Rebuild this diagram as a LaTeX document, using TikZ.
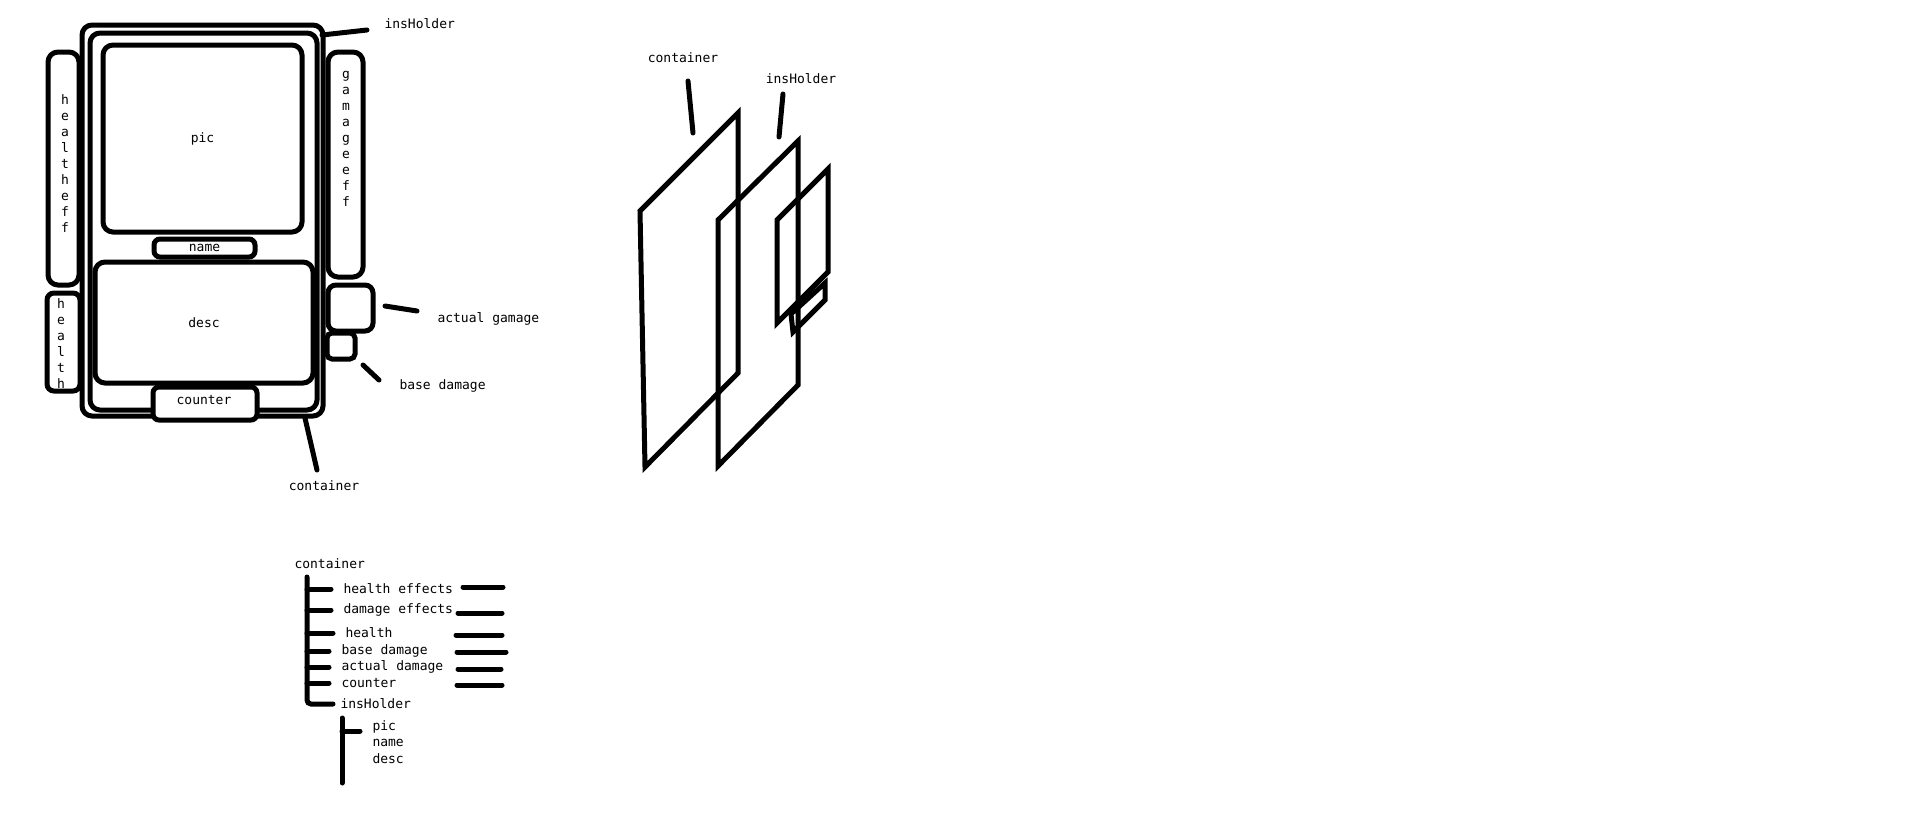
\documentclass[tikz,border=0pt]{standalone}
\usepackage{fontspec}
\setmonofont{DejaVu Sans Mono}
\usetikzlibrary{positioning}

\begin{document}
\begin{tikzpicture}[x=1pt, y=-1pt, line width=5pt, line cap=round,
  box/.style={draw, rounded corners=10pt, inner sep=0pt},
  txt/.style={font=\ttfamily\fontsize{13}{16}\selectfont, inner sep=0pt},
  vtxt/.style={txt, align=center}]
  \useasboundingbox (0,0) rectangle (1914,825);

  % card sketch
  \node[box, minimum width=241, minimum height=391] (cont) at (202.5,220.5) {};
  \node[box, minimum width=227, minimum height=377] (ins) at (203.5,221.5) {};
  \node[box, minimum width=199, minimum height=187] (pic) at (202.5,138.5) {};
  \node[txt] at (pic) {pic};
  \node[box, minimum width=101, minimum height=18, rounded corners=6pt] (name) at (204.5,248) {};
  \node[txt] at (name) {name};
  \node[box, minimum width=218, minimum height=121] (desc) at (204,322.5) {};
  \node[txt] at (desc) {desc};
  \node[box, minimum width=104, minimum height=33, rounded corners=6pt, fill=white] (cnt) at (205,403.5) {};
  \node[txt] at (204,400) {counter};
  \node[box, minimum width=31, minimum height=233] (heff) at (63.5,168.5) {};
  \node[vtxt] at (65,163.5) {h\\e\\a\\l\\t\\h\\e\\f\\f};
  \node[vtxt] at (61,343.5) {h\\e\\a\\l\\t\\h};
  \node[box, minimum width=33, minimum height=98, rounded corners=7pt] (hlth) at (63.5,342) {};
  \node[box, minimum width=35, minimum height=225] (geff) at (345.5,164.5) {};
  \node[vtxt] at (346,139) {g\\a\\m\\a\\g\\e\\e\\f\\f};
  \node[box, minimum width=45, minimum height=46, rounded corners=8pt] (agam) at (350.5,308) {};
  \node[box, minimum width=28, minimum height=26, rounded corners=5pt] (bdam) at (341,346) {};

  \node[txt, anchor=west] (lins) at (382,24) {insHolder};
  \node[txt, anchor=west] (lagam) at (435,319) {actual gamage};
  \node[txt, anchor=west] (lbdam) at (397,386) {base damage};
  \node[txt] (lcont) at (324,486) {container};
  \coordinate (a1) at (322,35);  \coordinate (a2) at (367,30);
  \coordinate (b1) at (385,306); \coordinate (b2) at (417,311);
  \coordinate (c1) at (363,365); \coordinate (c2) at (379,380);
  \coordinate (d1) at (305,418); \coordinate (d2) at (317,470);
  \draw (a1) -- (a2);
  \draw (b1) -- (b2);
  \draw (c1) -- (c2);
  \draw (d1) -- (d2);

  % layers
  \draw (738,113) -- (640,211) -- (645,467) -- (738,373) -- cycle;
  \draw (798,141) -- (718,220) -- (718,466) -- (798,385) -- cycle;
  \draw (828,169) -- (777,220) -- (777,323) -- (828,272) -- cycle;
  \draw (825,283) -- (791,314) -- (793,332) -- (825,300) -- cycle;
  \node[txt] (pcont) at (683,58) {container};
  \node[txt] (pins) at (801,79) {insHolder};
  \coordinate (e1) at (688,81); \coordinate (e2) at (693,133);
  \coordinate (f1) at (783,94); \coordinate (f2) at (779,137);
  \draw (e1) -- (e2);
  \draw (f1) -- (f2);

  % tree
  \node[txt, anchor=west] (tcont) at (292,564) {container};
  \node[txt, anchor=west] (t1) at (341,589) {health effects};
  \node[txt, anchor=west] (t2) at (341,610) {damage effects};
  \node[txt, anchor=west] (t3) at (343,633) {health};
  \node[txt, anchor=west] (t4) at (339,651) {base damage};
  \node[txt, anchor=west] (t5) at (339,667) {actual damage};
  \node[txt, anchor=west] (t6) at (339,683) {counter};
  \node[txt, anchor=west] (t7) at (338,704) {insHolder};
  \node[txt, anchor=west] (s1) at (370,727) {pic};
  \node[txt, anchor=west] (s2) at (370,743) {name};
  \node[txt, anchor=west] (s3) at (370,759) {desc};
  \coordinate (sp) at (307,577);
  \coordinate (ss) at (342,718);
  \draw[rounded corners=4pt] (sp) -- (sp |- t7) -- ([xshift=-5pt]t7.west);
  \foreach \t in {t1,t2,t3,t4,t5,t6}
    \draw (sp |- \t) -- ([xshift=-10pt]\t.west);
  \draw (ss) -- (342,783);
  \draw (ss |- s1) ++(0,4) -- (360,731);
  \draw (463,587) -- (503,587);
  \draw (458,613) -- (502,613);
  \draw (456,635) -- (502,635);
  \draw (457,652) -- (506,652);
  \draw (458,669) -- (501,669);
  \draw (457,685) -- (502,685);
\end{tikzpicture}
\end{document}
